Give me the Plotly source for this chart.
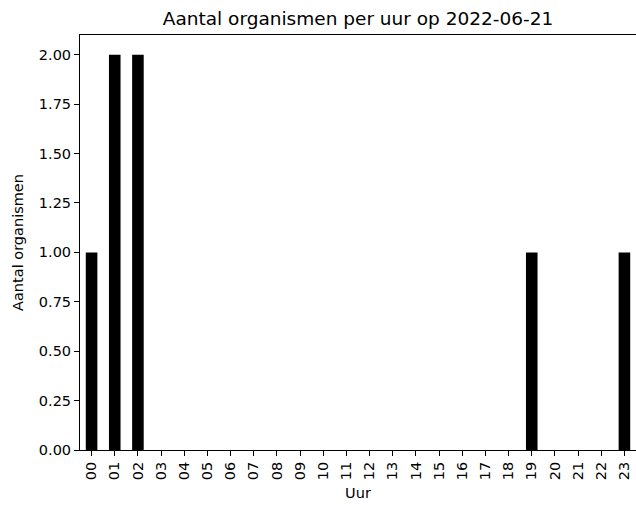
import plotly.graph_objects as go

hours = [f"{h:02d}" for h in range(24)]
counts = [1, 2, 2, 0, 0, 0, 0, 0, 0, 0, 0, 0, 0, 0, 0, 0, 0, 0, 0, 1, 0, 0, 0, 1]
y_ticks = [0, 0.25, 0.5, 0.75, 1.0, 1.25, 1.5, 1.75, 2.0]

font = "DejaVu Sans"
fs = 14.5

fig = go.Figure(go.Bar(x=hours, y=counts, width=0.5, marker=dict(color="black", line=dict(width=0))))

fig.update_layout(
    width=636, height=506,
    margin=dict(l=80, r=0, t=35, b=56, pad=0),
    paper_bgcolor="white", plot_bgcolor="white",
    font=dict(family=font, size=fs, color="black"),
    title=dict(text="Aantal organismen per uur op 2022-06-21", x=(80 + 636) / 2 / 636, xanchor="center",
               y=1 - 19 / 506, yanchor="middle", yref="container", font=dict(size=18.5, family=font)),
    showlegend=False,
)
fig.update_xaxes(
    type="category", range=[-0.5, 23.5], tickangle=-90, automargin=False,
    showline=True, linecolor="black", linewidth=1, mirror=True,
    ticks="outside", ticklen=5, tickcolor="black", showgrid=False,
    title=dict(text="Uur", standoff=8, font=dict(size=fs)),
    tickfont=dict(size=fs),
)
fig.update_yaxes(
    range=[0, 2.1], tickvals=y_ticks, tickformat=".2f", automargin=False,
    showline=True, linecolor="black", linewidth=1, mirror=True,
    ticks="outside", ticklen=5, tickcolor="black", showgrid=False, zeroline=False,
    title=dict(text="Aantal organismen", standoff=11, font=dict(size=fs)),
    tickfont=dict(size=fs),
)
fig.write_html(
    "out.html",
    config={"displayModeBar": False},
    post_script="document.body.style.margin='0';document.body.style.overflow='hidden';",
)
